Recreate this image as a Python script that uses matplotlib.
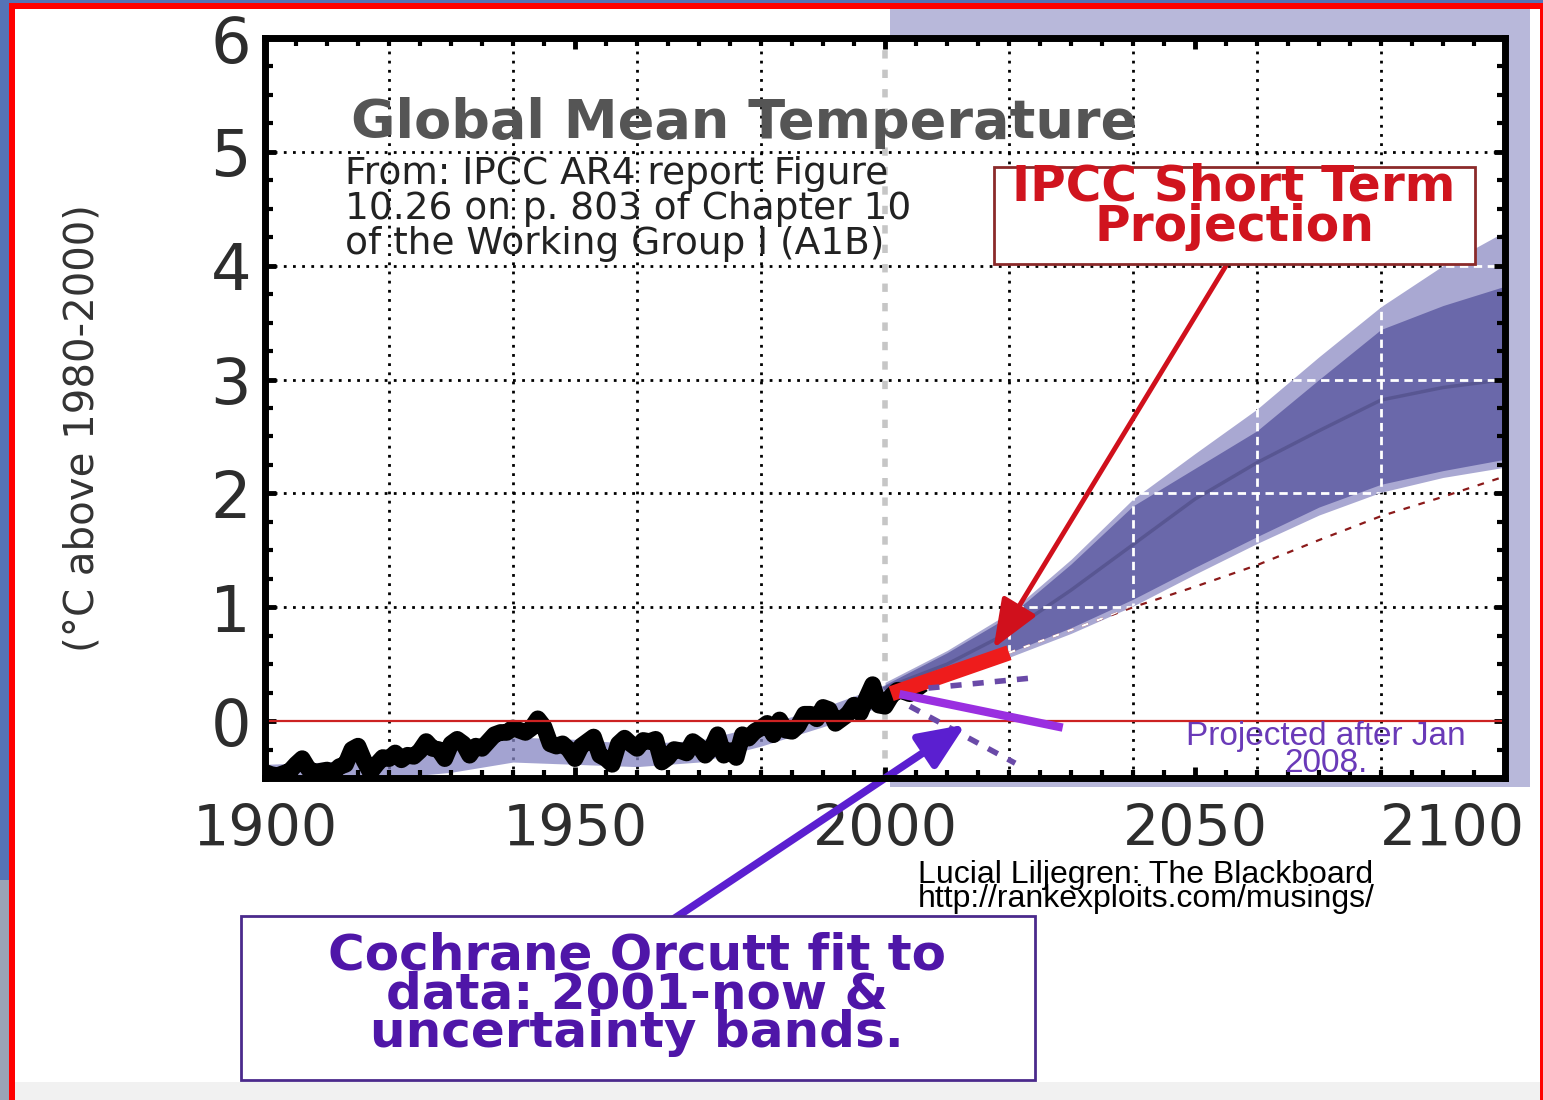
import matplotlib
matplotlib.use("Agg")
import matplotlib.pyplot as plt
from matplotlib.patches import Rectangle
from matplotlib.ticker import MultipleLocator
from matplotlib.transforms import ScaledTranslation

# ---------------- data ----------------
obs_years = list(range(1900, 2006))
obs_temp = [-0.45, -0.47, -0.48, -0.46, -0.44, -0.38, -0.33, -0.42, -0.45, -0.44,
            -0.43, -0.45, -0.40, -0.38, -0.25, -0.22, -0.35, -0.45, -0.38, -0.32,
            -0.33, -0.28, -0.34, -0.30, -0.31, -0.26, -0.18, -0.24, -0.25, -0.33,
            -0.20, -0.16, -0.20, -0.30, -0.22, -0.24, -0.18, -0.12, -0.10, -0.10,
            -0.06, -0.08, -0.10, -0.06, 0.02, -0.05, -0.20, -0.22, -0.20, -0.25,
            -0.33, -0.22, -0.18, -0.14, -0.30, -0.33, -0.38, -0.20, -0.15, -0.20,
            -0.24, -0.17, -0.18, -0.16, -0.36, -0.32, -0.25, -0.26, -0.28, -0.18,
            -0.22, -0.30, -0.24, -0.12, -0.30, -0.26, -0.32, -0.12, -0.15, -0.09,
            -0.06, -0.02, -0.12, 0.01, -0.08, -0.09, -0.04, 0.06, 0.06, 0.02,
            0.12, 0.10, -0.02, 0.02, 0.06, 0.14, 0.07, 0.20, 0.32, 0.14,
            0.13, 0.22, 0.27, 0.26, 0.24, 0.28]

hind_years = [1900, 1910, 1920, 1930, 1940, 1950, 1960, 1970, 1980, 1990, 2000]
hind_low = [-0.58, -0.55, -0.50, -0.45, -0.36, -0.38, -0.40, -0.36, -0.22, -0.05, 0.14]
hind_high = [-0.38, -0.36, -0.30, -0.24, -0.14, -0.16, -0.20, -0.17, -0.04, 0.12, 0.32]

proj_years = [2000, 2010, 2020, 2030, 2040, 2050, 2060, 2070, 2080, 2090, 2100]
light_high = [0.34, 0.62, 0.95, 1.42, 1.95, 2.35, 2.74, 3.20, 3.64, 4.00, 4.30]
dark_high = [0.32, 0.60, 0.92, 1.38, 1.89, 2.22, 2.55, 3.00, 3.44, 3.65, 3.82]
proj_center = [0.29, 0.50, 0.78, 1.15, 1.55, 1.95, 2.27, 2.55, 2.82, 2.93, 3.00]
dark_low = [0.25, 0.42, 0.60, 0.82, 1.07, 1.35, 1.62, 1.88, 2.08, 2.20, 2.30]
light_low = [0.23, 0.38, 0.56, 0.77, 1.01, 1.29, 1.56, 1.81, 2.01, 2.14, 2.23]

low_line_years = [2020, 2030, 2040, 2050, 2060, 2070, 2080, 2090, 2100]
low_line_vals = [0.60, 0.80, 1.00, 1.18, 1.37, 1.59, 1.80, 1.97, 2.15]

short_years = [2001, 2020]
short_vals = [0.24, 0.60]

fit_years = [2003, 2028]
fit_vals = [0.23, -0.05]
fit_up_years = [2007, 2024]
fit_up_vals = [0.29, 0.38]
fit_lo_years = [2004, 2021]
fit_lo_vals = [0.13, -0.37]

x_ticks = [1900, 1950, 2000, 2050, 2100]
y_ticks = [0, 1, 2, 3, 4, 5, 6]
grid_years = [1920, 1940, 1960, 1980, 2020, 2040, 2060, 2080]
grid_temps = [1, 2, 3, 4, 5]

# ---------------- figure ----------------
W, H = 1543, 1100
fig = plt.figure(figsize=(W / 100, H / 100), dpi=100)
fig.patch.set_facecolor('#5573b6')


def fx(px):
    return px / W


def fy(py):
    return 1 - py / H


def frect(x0, y0, x1, y1, **kw):
    r = Rectangle((fx(x0), fy(y1)), fx(x1) - fx(x0), fy(y0) - fy(y1),
                  transform=fig.transFigure, **kw)
    fig.add_artist(r)
    return r


frect(0, 880, 9, 1100, facecolor='#9aa3b6', edgecolor='none', zorder=-11)
frect(9, 3, 1543, 1100, facecolor='#ff0000', edgecolor='none', zorder=-10)
frect(15, 9, 1540, 1100, facecolor='white', edgecolor='none', zorder=-9)
frect(15, 1082, 1540, 1100, facecolor='#f1f1f1', edgecolor='none', zorder=-8)
frect(890, 9, 1530, 787, facecolor='#b8b8da', edgecolor='none', zorder=-8)

ax = fig.add_axes([fx(265), fy(778), fx(1505) - fx(265), fy(38) - fy(778)])
ax.set_facecolor('white')
ax.set_xlim(1900, 2100)
ax.set_ylim(-0.5, 6)

# grid (black dotted) and the year-2000 marker
for gx in grid_years:
    ax.axvline(gx, color='black', lw=2, ls=(0, (1, 2.3)), zorder=0.8)
for gy in grid_temps:
    ax.axhline(gy, color='black', lw=2, ls=(0, (1, 2.3)), zorder=0.8)
ax.axvline(2000, color='#c6c6c6', lw=4, ls=(0, (1.5, 2)), zorder=0.9)

# model hindcast band
ax.fill_between(hind_years, hind_low, hind_high, color='#8585c2', alpha=0.75,
                lw=0, zorder=1)

# projection bands
outer = ax.fill_between(proj_years, light_low, light_high, color='#a9a8d2',
                        lw=0, zorder=1)
ax.fill_between(proj_years, dark_low, dark_high, color='#6a68aa', lw=0, zorder=1.1)
ax.plot(proj_years, proj_center, color='#54528c', lw=2.5, alpha=0.8, zorder=1.15)

clip_path = outer.get_paths()[0]
for gx in grid_years:
    ln = ax.axvline(gx, color='white', lw=2, ls=(0, (3, 2)), zorder=1.2)
    ln.set_clip_path(clip_path, ax.transData)
for gy in grid_temps:
    ln = ax.axhline(gy, color='white', lw=2, ls=(0, (3, 2)), zorder=1.2)
    ln.set_clip_path(clip_path, ax.transData)

# lower dashed projection line
ax.plot(low_line_years, low_line_vals, color='#8b1a1a', lw=1.6,
        ls=(0, (3, 4)), zorder=1.3)
wl, = ax.plot(low_line_years, low_line_vals, color='white', lw=1.6,
              ls=(0, (3, 4)), zorder=1.31)
wl.set_clip_path(clip_path, ax.transData)

# observations
ax.plot(obs_years, obs_temp, color='black', lw=12, zorder=3)

# zero line
ax.axhline(0, color='#cc2222', lw=1.6, zorder=4)

# IPCC short-term projection
ax.plot(short_years, short_vals, color='#ee1c1c', lw=11, solid_capstyle='butt',
        zorder=5)

# Cochrane-Orcutt fit and uncertainty
ax.plot(fit_years, fit_vals, color='#9a2fe0', lw=6, zorder=5)
ax.plot(fit_up_years, fit_up_vals, color='#6a4aa8', lw=4, ls=(0, (2, 2)), zorder=5)
ax.plot(fit_lo_years, fit_lo_vals, color='#6a4aa8', lw=4, ls=(0, (2, 2)), zorder=5)

# arrows
ax.annotate('', xy=(2017.5, 0.64), xycoords='data', xytext=(2055, 4.0),
            textcoords='data',
            arrowprops=dict(arrowstyle='-|>,head_length=3.0,head_width=1.2',
                            color='#d0101c', lw=3.5, shrinkA=0, shrinkB=0),
            zorder=6)
ax.annotate('', xy=(2013, -0.03), xycoords='data',
            xytext=(fx(672), fy(920)), textcoords='figure fraction',
            arrowprops=dict(arrowstyle='-|>,head_length=2.8,head_width=1.2',
                            color='#5b1fd0', lw=5.5, shrinkA=0, shrinkB=0),
            annotation_clip=False, zorder=6)

# ticks / spines
ax.set_xticks(x_ticks)
ax.set_yticks(y_ticks)
ax.xaxis.set_minor_locator(MultipleLocator(5))
ax.yaxis.set_minor_locator(MultipleLocator(0.25))
ax.tick_params(which='both', direction='in', top=True, right=True, color='black')
ax.tick_params(which='major', length=8, width=3.5, labelcolor='#2d2d2d')
ax.tick_params(which='minor', length=6, width=3)
ax.tick_params(axis='x', which='major', pad=18, labelsize=41)
ax.tick_params(axis='y', which='major', pad=10, labelsize=46)
for s in ax.spines.values():
    s.set_linewidth(5)
    s.set_color('black')
    s.set_zorder(7)

lbl = ax.get_xticklabels()[-1]
lbl.set_transform(lbl.get_transform() + ScaledTranslation(-0.53, 0, fig.dpi_scale_trans))

ax.set_ylabel('(°C above 1980-2000)', fontsize=29, color='#333333')
ax.yaxis.set_label_coords(-0.1468, 0.473)
ax.yaxis.label.set_verticalalignment('center')

# ---------------- texts ----------------
fig.text(fx(351), fy(138), 'Global Mean Temperature', fontsize=39,
         fontweight='bold', color='#555555', va='baseline', ha='left')
fig.text(fx(345), fy(254),
         'From: IPCC AR4 report Figure\n10.26 on p. 803 of Chapter 10\n'
         'of the Working Group I (A1B)',
         fontsize=27, color='#222222', va='baseline', ha='left',
         linespacing=0.97)

frect(994, 167, 1475, 264, facecolor='white', edgecolor='#8b2a2a', lw=2, zorder=8)
fig.text(fx(1234), fy(241), 'IPCC Short Term\nProjection', fontsize=35,
         fontweight='bold', color='#d0141e', ha='center', va='baseline',
         multialignment='center', linespacing=0.81, zorder=9)

fig.text(fx(1326), fy(772), 'Projected after Jan\n2008.', fontsize=24,
         family='Liberation Sans', color='#6a3ab8', ha='center', va='baseline',
         multialignment='center', linespacing=0.82, zorder=9)

fig.text(fx(918), fy(907),
         'Lucial Liljegren: The Blackboard\nhttp://rankexploits.com/musings/',
         fontsize=23, family='Liberation Sans', color='black', ha='left',
         va='baseline', linespacing=0.76)

frect(241, 916, 1035, 1080, facecolor='white', edgecolor='#4b2a8c', lw=2, zorder=8)
fig.text(fx(637), fy(1047),
         'Cochrane Orcutt fit to\ndata: 2001-now &\nuncertainty bands.',
         fontsize=36, fontweight='bold', color='#4f16a8', ha='center',
         va='baseline', multialignment='center', linespacing=0.75, zorder=9)

fig.savefig('out.png', dpi=100, facecolor=fig.get_facecolor())
